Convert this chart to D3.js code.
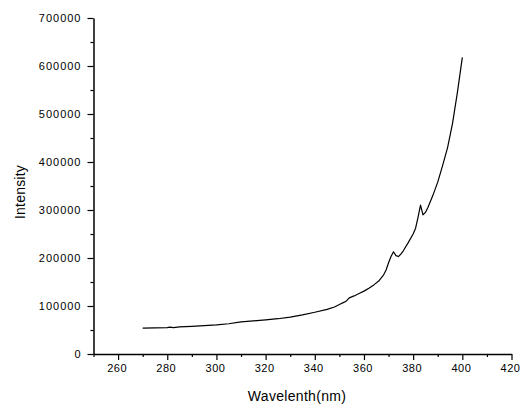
<!DOCTYPE html>
<html>
<head>
<meta charset="utf-8">
<script src="https://cdn.jsdelivr.net/npm/d3@7"></script>
<style>
  html, body { margin: 0; padding: 0; background: #fff; }
  svg { display: block; }
  text { font-family: "Liberation Sans", Arial, sans-serif; fill: #000; }
</style>
</head>
<body>
<svg id="chart" width="521" height="410"></svg>
<script>
const wavelength = [270, 275, 280, 281, 282.5, 285, 290, 295, 300, 305, 310, 315, 320, 325, 330, 335, 340, 345, 348, 350, 352, 353, 354, 356, 358, 360, 362, 364, 366, 368, 369, 370, 371, 372, 373, 374, 375, 376, 378, 380, 381, 382, 383, 384, 385, 386, 388, 390, 392, 394, 396, 398, 400];
const intensity = [54000, 54500, 55000, 55800, 54800, 56500, 57500, 59000, 60500, 63000, 67000, 69000, 71000, 73500, 77000, 81500, 87000, 93000, 98000, 103000, 108000, 111000, 117000, 121000, 126000, 131000, 137000, 144000, 152000, 165000, 175000, 190000, 203000, 213000, 205000, 203000, 208000, 215000, 232000, 250000, 262000, 285000, 310000, 290000, 295000, 305000, 330000, 358000, 393000, 430000, 480000, 545000, 618000];
const xTicks = [260, 280, 300, 320, 340, 360, 380, 400, 420];
const xMinorTicks = [250, 270, 290, 310, 330, 350, 370, 390, 410];
const yTicks = [0, 100000, 200000, 300000, 400000, 500000, 600000, 700000];
const yMinorTicks = [50000, 150000, 250000, 350000, 450000, 550000, 650000];
const xLabel = "Wavelenth(nm)";
const yLabel = "Intensity";

const svg = d3.select("#chart");
const x = d3.scaleLinear().domain([250, 420]).range([93.5, 511.5]);
const y = d3.scaleLinear().domain([0, 700000]).range([354, 18]);

// Axes
const xAxisG = svg.append("g").attr("transform", "translate(0,354)");
xAxisG.call(d3.axisBottom(x).tickValues(xTicks).tickSize(6).tickPadding(4).tickSizeOuter(0).tickFormat(d3.format("d")));
const xMinorG = svg.append("g").attr("transform", "translate(0,354)");
xMinorG.call(d3.axisBottom(x).tickValues(xMinorTicks).tickSize(3).tickSizeOuter(0).tickFormat(""));
xMinorG.select(".domain").remove();

const yAxisG = svg.append("g").attr("transform", "translate(93.5,0)");
yAxisG.call(d3.axisLeft(y).tickValues(yTicks).tickSize(6).tickPadding(6).tickSizeOuter(0).tickFormat(d3.format("d")));
const yMinorG = svg.append("g").attr("transform", "translate(93.5,0)");
yMinorG.call(d3.axisLeft(y).tickValues(yMinorTicks).tickSize(3).tickSizeOuter(0).tickFormat(""));
yMinorG.select(".domain").remove();

svg.selectAll(".domain").attr("stroke", "#000").attr("stroke-width", 1.5);
svg.selectAll(".tick line").attr("stroke", "#000").attr("stroke-width", 1.2);
svg.selectAll(".tick text")
  .style("font-family", "'Liberation Sans', Arial, sans-serif")
  .style("font-size", "11px")
  .style("letter-spacing", "1px")
  .attr("fill", "#000");
xAxisG.selectAll(".tick text")
  .style("letter-spacing", "0.5px")
  .attr("dx", "-1.5");

// Curve
const line = d3.line().x((d, i) => x(wavelength[i])).y(d => y(d));
svg.append("path")
  .datum(intensity)
  .attr("d", line)
  .attr("fill", "none")
  .attr("stroke", "#000")
  .attr("stroke-width", 1.2)
  .attr("stroke-linejoin", "round");

// Labels
svg.append("text")
  .attr("x", 297).attr("y", 401)
  .attr("text-anchor", "middle")
  .style("font-size", "14px")
  .style("letter-spacing", "0.3px")
  .text(xLabel);

svg.append("text")
  .attr("transform", "translate(25,192) rotate(-90)")
  .attr("text-anchor", "middle")
  .style("font-size", "14px")
  .style("letter-spacing", "0.2px")
  .text(yLabel);
</script>
</body>
</html>
